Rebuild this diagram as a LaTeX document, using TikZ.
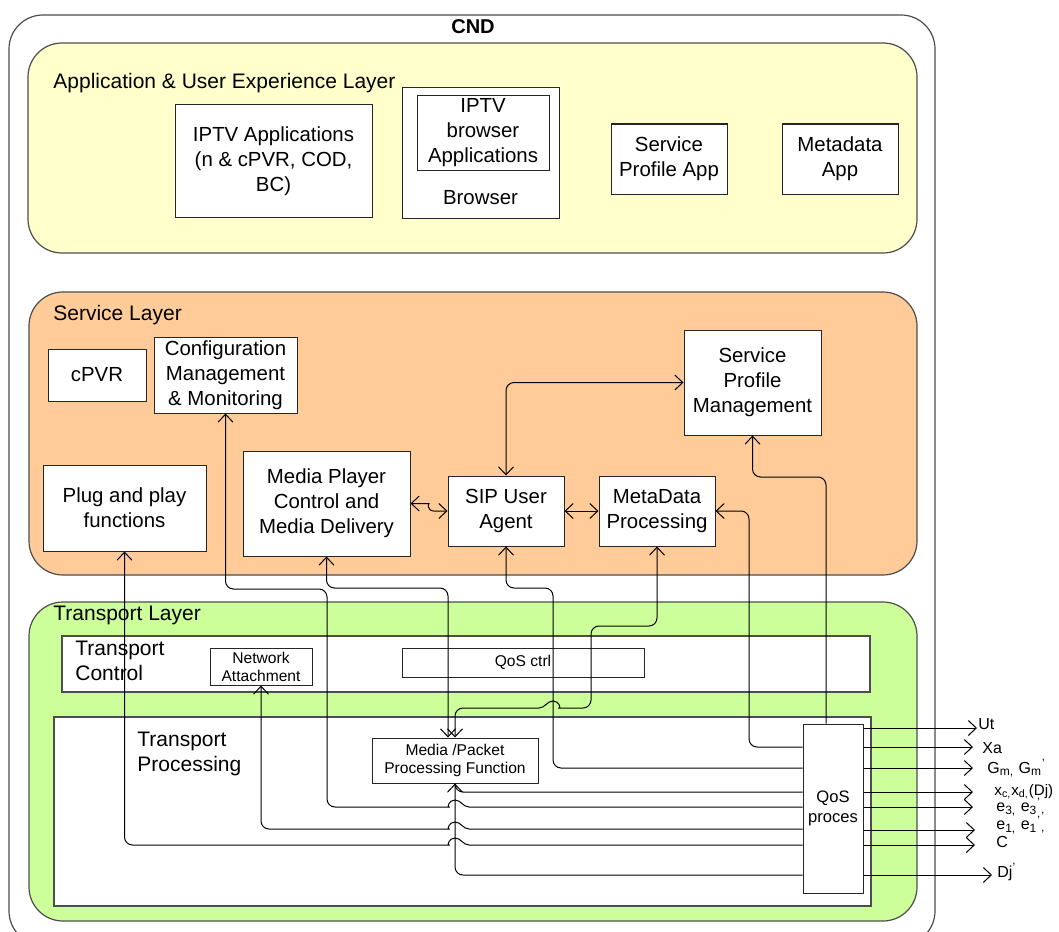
\documentclass[tikz,border=0pt]{standalone}
\usepackage{fontspec}
\setmainfont{Liberation Sans}
\usetikzlibrary{arrows.meta}

\definecolor{applayer}{HTML}{FFFFCC}
\definecolor{svclayer}{HTML}{FFCC99}
\definecolor{trnlayer}{HTML}{CCFF99}
\definecolor{edge}{HTML}{4D4D4D}

\tikzset{
  wh/.style 2 args={minimum width=#1*0.5pt, minimum height=#2*0.5pt},
  layer/.style={draw=edge, line width=0.6pt, rounded corners=17pt, inner sep=0pt},
  area/.style={draw=edge, line width=0.6pt, fill=white, inner sep=0pt},
  box/.style={draw=black!85, fill=white, line width=0.5pt, inner sep=0pt, align=center,
    font=\fontsize{10.2}{12.5}\selectfont},
  smallbox/.style={box, font=\fontsize{7.8}{9}\selectfont},
  txt/.style={inner sep=0pt, align=left, anchor=west, font=\fontsize{10.5}{12.5}\selectfont},
  outlbl/.style={inner sep=0pt, anchor=west, font=\fontsize{8}{10}\selectfont},
  link/.style={line width=0.5pt, rounded corners=4pt, >={Straight Barb[length=4pt,width=7.5pt]}},
}

\begin{document}
\begin{tikzpicture}[x=0.5pt, y=-0.5pt]
  \useasboundingbox (0,0) rectangle (1059,931);
  \clip (0,0) rectangle (1059,931);

  % layers
  \node[layer, fill=white, wh={926}{930}] (cnd) at (472,480) {};
  \node[font=\bfseries\fontsize{10}{12}\selectfont] (cndlbl) at (473,27) {CND};
  \node[layer, fill=applayer, wh={889}{210}] (app) at (472.5,148) {};
  \node[layer, fill=svclayer, wh={888}{283}] (svc) at (473,433.5) {};
  \node[layer, fill=trnlayer, wh={888}{319}] (trn) at (473,761.5) {};
  \node[area, wh={808}{56}] (tctl) at (466,664) {};
  \node[area, wh={817}{189}] (tproc) at (462.5,811.5) {};

  \node[txt] (applbl) at (53,83) {Application \& User Experience Layer};
  \node[txt] (svclbl) at (53,315) {Service Layer};
  \node[txt] (trnlbl) at (53,615) {Transport Layer};
  \node[txt] (tctllbl) at (75,660.5) {Transport\\Control};
  \node[txt] (tproclbl) at (137,754) {Transport\\Processing};

  % application layer
  \node[box, wh={197}{112}] (iptv) at (273.5,161) {IPTV Applications\\(n \& cPVR, COD,\\BC)};
  \node[box, wh={157}{130}] (browser) at (480.5,153) {};
  \node[box, wh={132}{74}] (iptvbr) at (483,133) {IPTV\\browser\\Applications};
  \node[inner sep=0pt, font=\fontsize{10.2}{12.5}\selectfont] (brtxt) at (480.5,198) {Browser};
  \node[box, wh={116}{70}] (spa) at (669,159) {Service\\Profile App};
  \node[box, wh={116}{70}] (mda) at (840,159) {Metadata\\App};

  % service layer
  \node[box, wh={98}{52}] (cpvr) at (97,375) {cPVR};
  \node[box, wh={143}{76}] (cfg) at (225.5,375) {Configuration\\Management\\\& Monitoring};
  \node[box, wh={163}{86}] (pnp) at (124.5,508) {Plug and play\\functions};
  \node[box, wh={167}{105}] (mpc) at (326.5,503.5) {Media Player\\Control and\\Media Delivery};
  \node[box, wh={116}{70}] (sip) at (506,511) {SIP User\\Agent};
  \node[box, wh={116}{70}] (mdp) at (657,511) {MetaData\\Processing};
  \node[box, wh={137}{105}] (spm) at (752.5,382.5) {Service\\Profile\\Management};

  % transport layer
  \node[smallbox, wh={102}{37}] (na) at (261,666.5) {Network\\Attachment};
  \node[smallbox, wh={242}{29}] (qosc) at (523,662.5) {QoS ctrl};
  \node[smallbox, wh={166}{45}] (mpp) at (455,760.5) {Media /Packet\\Processing Function};
  \node[box, wh={60}{169}, font=\fontsize{8.3}{10}\selectfont] (qosp) at (833,808.5) {QoS\\proces};

  % connectors
  \draw[link,<->] (sip.north) |- (spm.west);
  \draw[link,<->] (sip.east) -- (mdp.west);
  \draw[link,<->] (mpc.east) -- (421,503.5) [sharp corners]
    .. controls (428,503.5) and (427,511) .. (434,511) -- (sip.west);
  \draw[link,<-] (cfg.south) -- (225.5,589) -- (327,589) -- (327,807) -- (441,807) [sharp corners]
    .. controls (447,807) and (449,800) .. (455,800) .. controls (461,800) and (463,807) .. (469,807)
    -- (qosp.west |- 0,807);
  \draw[link,<->] (mpc.south) -- (326.5,588) -- (448,588) -- (mpp.north -| 448,0);
  \draw[link,<-] (sip.south) -- (506,588) -- (553,588) -- (553,768) -- (qosp.west |- 0,768);
  \draw[link,<->] (mdp.south) -- (657,626) -- (591,626) -- (591,708) -- (567,708) [sharp corners]
    .. controls (561,708) and (559,701) .. (553,701) .. controls (547,701) and (545,708) .. (539,708)
    [rounded corners=4pt] -- (455,708) -- (mpp.north);
  \draw[link,<-] (mdp.east) -- (749,511) -- (749,747) -- (qosp.west |- 0,747);
  \draw[link,<-] (spm.south) -- (752.5,477) -- (826,477) -- (qosp.north -| 826,0);
  \draw[link,<-] (na.south) -- (261,829) -- (441,829) [sharp corners]
    .. controls (447,829) and (449,822) .. (455,822) .. controls (461,822) and (463,829) .. (469,829)
    -- (qosp.west |- 0,829);
  \draw[link,<-] (pnp.south) -- (124.5,845) -- (441,845) [sharp corners]
    .. controls (447,845) and (449,838) .. (455,838) .. controls (461,838) and (463,845) .. (469,845)
    -- (qosp.west |- 0,845);
  \draw[link,<-] (mpp.south) -- (455,792) -- (qosp.west |- 0,792);
  \draw[link] (mpp.south) -- (455,875) -- (qosp.west |- 0,875);

  % outputs
  \foreach \y/\tx/\nm in {728/977/ut, 747/973/xa, 768/973/gm, 792/973/xc,
      807/973/ethree, 830/975/eone, 845/975/cc, 875/992/djp}{
    \coordinate (\nm) at (\tx,\y);
    \draw[link,->] (qosp.east |- 0,\y) -- (\nm);
  }
  \node[outlbl] (utlbl) at (978,724) {Ut};
  \node[outlbl] (xalbl) at (982,748) {Xa};
  \node[outlbl] (gmlbl) at (987,768) {G\textsubscript{m,} G\textsubscript{m}\textsuperscript{'}};
  \node[outlbl, font=\fontsize{7.6}{10}\selectfont] (xclbl) at (994,792) {x\textsubscript{c,}x\textsubscript{d,}(Dj)};
  \node[outlbl] (e3lbl) at (996,807) {e\textsubscript{3,} e\textsubscript{3}\textsuperscript{'}\textsubscript{,}};
  \node[outlbl] (e1lbl) at (996,825) {e\textsubscript{1,} e\textsubscript{1}\textsuperscript{'}\textsubscript{,}};
  \node[outlbl] (clbl) at (996,842) {C};
  \node[outlbl] (djlbl) at (997,872) {Dj\textsuperscript{'}};
\end{tikzpicture}
\end{document}
